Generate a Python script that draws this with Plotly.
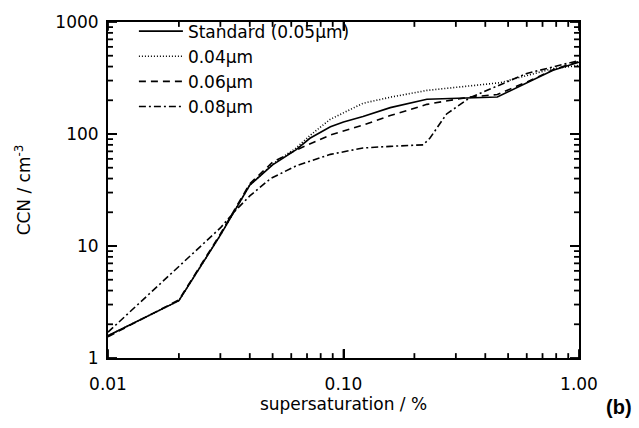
import plotly.graph_objects as go

# ---- data ----
std_x = [0.01, 0.02, 0.03, 0.04, 0.05, 0.063, 0.072, 0.088, 0.1, 0.121, 0.158, 0.226, 0.45, 0.62, 0.776, 1.0]
std_y = [1.58, 3.25, 12.5, 35, 53, 72.6, 91.6, 116, 128, 143, 172, 204, 214, 294, 371, 438]

d04_x = [0.01, 0.02, 0.03, 0.04, 0.05, 0.063, 0.072, 0.0877, 0.121, 0.158, 0.226, 0.462, 0.776, 1.0]
d04_y = [1.58, 3.25, 12.5, 35, 54, 75, 97, 135, 188, 213, 245, 287, 384, 409]

d06_x = [0.01, 0.02, 0.03, 0.04, 0.05, 0.063, 0.088, 0.121, 0.158, 0.226, 0.344, 0.45, 0.62, 0.776, 1.0]
d06_y = [1.55, 3.3, 12.8, 36, 56, 72, 98, 120, 146, 184, 214, 225, 300, 375, 445]

d08_x = [0.01, 0.02, 0.03, 0.035, 0.04, 0.049, 0.063, 0.088, 0.121, 0.158, 0.218, 0.233, 0.274, 0.344, 0.462, 0.6, 1.0]
d08_y = [1.7, 6.6, 14.5, 21, 28, 40, 52, 65.8, 75, 77.6, 80, 92, 151, 211, 275, 347, 453]

names = ["Standard (0.05μm)", "0.04μm", "0.06μm", "0.08μm"]

x_major = [0.01, 0.1, 1.0]
x_major_text = ["0.01", "0.10", "1.00"]
y_major = [1, 10, 100, 1000]
y_major_text = ["1", "10", "100", "1000"]
x_minor = [m * 10.0 ** e for e in (-2, -1) for m in range(2, 10)]
y_minor = [m * 10.0 ** e for e in (0, 1, 2) for m in range(2, 10)]

FONT = "DejaVu Sans"
X_RANGE, Y_RANGE = [-2, 0], [0, 3]
MARGIN = dict(l=108, r=60, t=12, b=70)
W, H = 639, 428
plot_w = W - MARGIN["l"] - MARGIN["r"]
plot_h = H - MARGIN["t"] - MARGIN["b"]
x_dec_per_px = (X_RANGE[1] - X_RANGE[0]) / plot_w
y_dec_per_px = (Y_RANGE[1] - Y_RANGE[0]) / plot_h

series = [
    (std_x, std_y, names[0], "solid"),
    (d04_x, d04_y, names[1], "1px,2px"),
    (d06_x, d06_y, names[2], "7px,5px"),
    (d08_x, d08_y, names[3], "7px,3px,2px,3px"),
]

fig = go.Figure()
for i, (xs, ys, nm, dash) in enumerate(series):
    fig.add_trace(go.Scatter(x=xs, y=ys, name=nm, mode="lines",
                             line=dict(color="black", width=1.6, dash=dash)))

# tick marks on all four sides, built from the tick lists through the log scales
xlo, xhi = 10.0 ** X_RANGE[0], 10.0 ** X_RANGE[1]
ylo, yhi = 10.0 ** Y_RANGE[0], 10.0 ** Y_RANGE[1]
for vals, ln in ((x_major, 9), (x_minor, 5)):
    f = 10.0 ** (ln * y_dec_per_px)
    for v in vals:
        for y0, y1 in ((ylo, ylo * f), (yhi, yhi / f)):
            fig.add_trace(go.Scatter(x=[v, v], y=[y0, y1], mode="lines", showlegend=False,
                                     hoverinfo="skip", cliponaxis=False,
                                     line=dict(color="black", width=1.8)))
for vals, ln in ((y_major, 9), (y_minor, 5)):
    f = 10.0 ** (ln * x_dec_per_px)
    for v in vals:
        for x0, x1 in ((xlo, xlo * f), (xhi, xhi / f)):
            fig.add_trace(go.Scatter(x=[x0, x1], y=[v, v], mode="lines", showlegend=False,
                                     hoverinfo="skip", cliponaxis=False,
                                     line=dict(color="black", width=1.8)))

tickfont = dict(family=FONT, size=17, color="black")
base = dict(type="log", showgrid=False, zeroline=False, tickcolor="#000000", tickwidth=1.5,
            ticks="inside", tickmode="array", showline=True, linewidth=2, linecolor="black",
            mirror="ticks")

fig.update_xaxes(**base, range=X_RANGE, tickvals=x_major, ticktext=x_major_text, ticklen=9,
                 tickfont=tickfont, ticklabelstandoff=10,
                 title=dict(text="supersaturation / %", font=tickfont, standoff=4))
fig.update_yaxes(**base, range=Y_RANGE, tickvals=y_major, ticktext=y_major_text, ticklen=9,
                 tickfont=tickfont, ticklabelstandoff=4,
                 title=dict(text="CCN / cm<sup>-3</sup>", font=tickfont, standoff=20))

fig.add_annotation(text="<b>(b)</b>", xref="paper", yref="paper", x=1.085, y=-0.1445,
                   showarrow=False, font=dict(family="Liberation Sans", size=20, color="black"),
                   xanchor="center", yanchor="middle")

fig.update_layout(
    width=W, height=H,
    margin=MARGIN,
    paper_bgcolor="white", plot_bgcolor="white",
    showlegend=True,
    legend=dict(x=0.055, y=1.025, xanchor="left", yanchor="top", bgcolor="rgba(0,0,0,0)",
                font=dict(family=FONT, size=17, color="black"), itemwidth=44),
)

fig.write_html("out.html")
